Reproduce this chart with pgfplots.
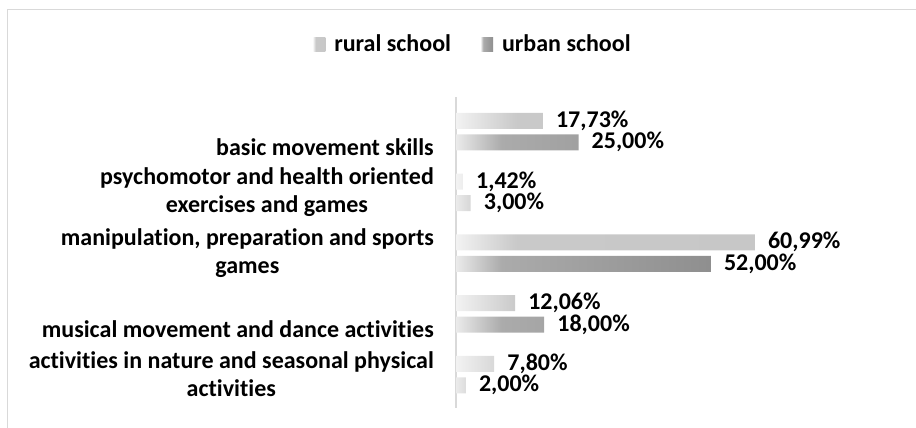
\documentclass[border=0pt]{standalone}
\usepackage{pgfplots}
\pgfplotsset{compat=1.18}
\usepackage{pgfplotstable}
\usepackage{fontspec}
\setmainfont{Carlito}[Ligatures=CommonOff]
\newcommand{\chfont}{\fontsize{24bp}{28bp}\selectfont\bfseries}
\pgfdeclarehorizontalshading{ruralsh}{100bp}{color(0bp)=(black!5); color(25bp)=(black!5); color(35bp)=(black!21); color(75bp)=(black!22); color(100bp)=(black!22)}
\pgfdeclarehorizontalshading{urbansh}{100bp}{color(0bp)=(black!8); color(25bp)=(black!8); color(34bp)=(black!33); color(75bp)=(black!44); color(100bp)=(black!44)}
\pgfplotstableread{
y val label
0 17.73 {17,73\%}
1 1.42 {1,42\%}
2 60.99 {60,99\%}
3 12.06 {12,06\%}
4 7.80 {7,80\%}
}\rural
\pgfplotstableread{
y val label
0 25.00 {25,00\%}
1 3.00 {3,00\%}
2 52.00 {52,00\%}
3 18.00 {18,00\%}
4 2.00 {2,00\%}
}\urban
\begin{document}
\begin{tikzpicture}
\path[use as bounding box] (0,0) rectangle (916bp,-428bp);
\draw[black!15, line width=1.5bp] (7.5bp,-428bp) -- (7.5bp,-9.5bp) -- (916bp,-9.5bp);
\begin{axis}[
  at={(456bp,-97bp)}, anchor=north west,
  scale only axis, width=441bp, height=311bp,
  xbar, bar width=16bp,
  xmin=0, xmax=90,
  ymin=-0.568, ymax=4.55, y dir=reverse,
  axis x line=none,
  axis y line*=left,
  y axis line style={-, black!15, line width=2.5bp},
  ytick={0,1,2,3,4},
  yticklabels={{\strut\\basic movement skills},{psychomotor and health oriented\\exercises and games},{manipulation, preparation and sports\\games},{\strut\\musical movement and dance activities},{activities in nature and seasonal physical\\activities}},
  major tick length=0pt,
  yticklabel style={align=center, font=\chfont, inner sep=0pt, xshift=-22bp},
  nodes near coords, point meta=explicit symbolic,
  nodes near coords style={font=\chfont, anchor=west, inner sep=0pt, xshift=13bp},
  clip=false,
  legend columns=2,
  legend style={at={(axis description cs:0.0385,1.17)}, anchor=center, draw=none, font=\chfont,
    /tikz/every even column/.append style={column sep=28bp}},
  legend image code/.code={\path[#1] (0bp,-7bp) rectangle (12bp,7bp); \path (19bp,0bp);},
]
\addplot[draw=none, shade, shading=ruralsh, bar shift=10.75bp] table[x=val, y=y, meta=label]{\rural};
\addplot[draw=none, shade, shading=urbansh, bar shift=-10.75bp] table[x=val, y=y, meta=label]{\urban};
\legend{rural school, urban school}
\end{axis}
\end{tikzpicture}
\end{document}
